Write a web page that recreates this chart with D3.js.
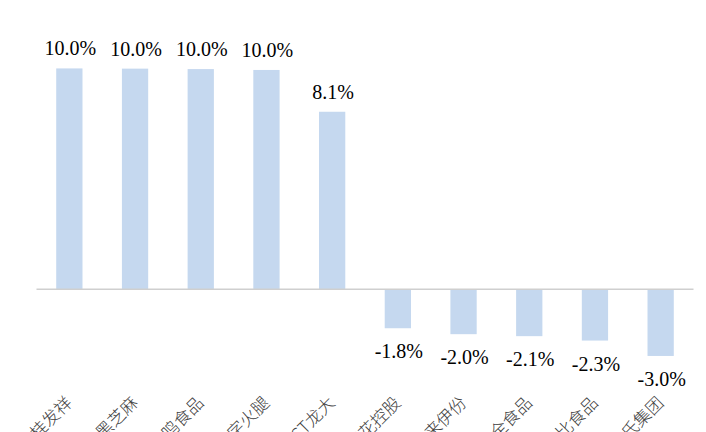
<!DOCTYPE html>
<html>
<head>
<meta charset="utf-8">
<script src="https://cdn.jsdelivr.net/npm/d3@7"></script>
<style>
  html, body { margin: 0; padding: 0; background: #fff; overflow: hidden; }
  svg { display: block; }
  .val { font-family: "Liberation Serif", "DejaVu Serif", serif; }
  .cat { font-family: "Noto Sans CJK SC", sans-serif; }
</style>
</head>
<body>
<svg id="chart" width="706" height="432"></svg>
<script>
const categories = ["桂发祥", "黑芝麻", "一鸣食品", "金字火腿", "ST龙大", "莲花控股", "来伊份", "三全食品", "巴比食品", "皇氏集团"];
const values = [10.04, 10.03, 10.01, 9.97, 8.07, -1.77, -2.04, -2.13, -2.33, -3.03];

const svg = d3.select("#chart");
const zeroY = 289.3, pxPer = 22;

const x = d3.scaleBand().domain(categories).range([36.5, 693.5]).padding(0);
const y = d3.scaleLinear().domain([-4, 10.5]).range([zeroY + 4 * pxPer, zeroY - 10.5 * pxPer]);
const barW = x.bandwidth() * 0.4;
const fmt = d => (d < 0 ? "-" : "") + Math.abs(d).toFixed(1) + "%";

const data = categories.map((c, i) => ({ c, v: values[i] }));

svg.selectAll("rect.bar").data(data).enter().append("rect")
  .attr("class", "bar")
  .attr("x", d => x(d.c) + x.bandwidth() / 2 - barW / 2)
  .attr("width", barW)
  .attr("y", d => Math.min(y(d.v), y(0)))
  .attr("height", d => Math.abs(y(d.v) - y(0)))
  .attr("fill", "#c5d8ef");

// zero axis line
svg.append("line")
  .attr("x1", x.range()[0]).attr("x2", x.range()[1])
  .attr("y1", y(0)).attr("y2", y(0))
  .attr("stroke", "#cfcfcf").attr("stroke-width", 1.5);

// value labels
svg.selectAll("text.val").data(data).enter().append("text")
  .attr("class", "val")
  .attr("x", d => x(d.c) + x.bandwidth() / 2 + 1)
  .attr("y", d => d.v >= 0 ? y(d.v) - 13 : y(d.v) + 30)
  .attr("text-anchor", "middle")
  .attr("font-size", 20)
  .attr("fill", "#000")
  .text(d => fmt(d.v));

// category labels (rotated, cut by page bottom as in the reference)
svg.selectAll("text.cat").data(data).enter().append("text")
  .attr("class", "cat")
  .attr("transform", d => `translate(${x(d.c) + x.bandwidth() / 2 + 4},${404}) rotate(-45)`)
  .attr("text-anchor", "end")
  .attr("font-size", 17)
  .attr("font-weight", 300)
  .attr("fill", "#404040")
  .text(d => d.c);
</script>
</body>
</html>
